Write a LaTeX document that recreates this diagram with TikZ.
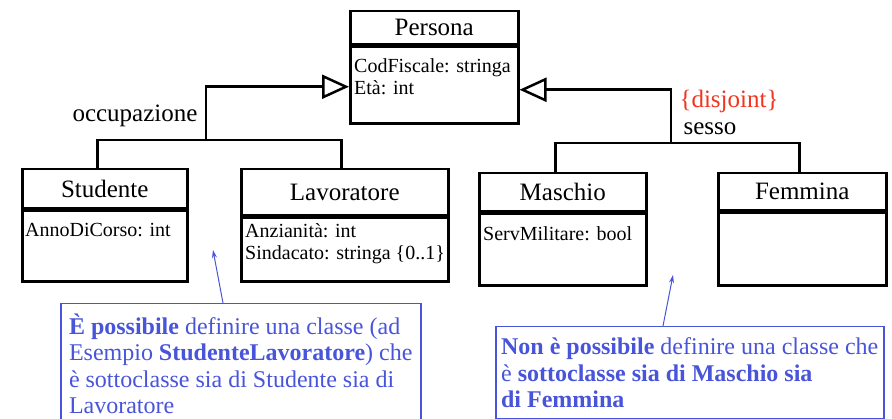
\documentclass[tikz,border=0pt]{standalone}
\usepackage{fontspec}
\setmainfont{Liberation Serif}
\usepackage{tikz}
\usetikzlibrary{arrows.meta,positioning}

\definecolor{noteblue}{RGB}{72,84,218}
\definecolor{disjred}{RGB}{240,52,30}

\begin{document}
\begin{tikzpicture}[
    x=1pt, y=-1pt,
    cname/.style={rectangle, draw, line width=2.5pt, inner sep=0pt, anchor=north west,
        font=\fontsize{25}{28}\selectfont},
    cbody/.style={rectangle, draw, line width=2.5pt, inner sep=0pt},
    attr/.style={anchor=north west, inner sep=0pt, align=left,
        font=\fontsize{20}{22}\selectfont},
    gen/.style={line width=2.5pt},
    super/.style={-{Triangle[open, length=27pt, width=24pt]}, line width=2.5pt},
    lbl/.style={anchor=base, inner sep=0pt, font=\fontsize{25}{28}\selectfont},
    note/.style={rectangle, draw=noteblue, line width=1.5pt, text=noteblue, align=left,
        anchor=north west, inner sep=0pt, font=\fontsize{24}{26.5}\selectfont},
    pointer/.style={draw=noteblue, line width=1pt, -{Stealth[length=8pt, width=5pt]}}
]
\useasboundingbox (0,0) rectangle (892,419);

% classes
\node[cname, minimum width=168pt, minimum height=33pt] (persona) at (349,10) {Persona};
\node[cbody, minimum width=168pt, minimum height=77pt, below=0pt of persona] (personaB) {};
\node[attr] (personaA) at ([shift={(5pt,-13pt)}]personaB.north west) {CodFiscale: stringa\\Età: int};

\node[cname, minimum width=165pt, minimum height=39pt] (studente) at (21,168) {Studente};
\node[cbody, minimum width=165pt, minimum height=71pt, below=0pt of studente] (studenteB) {};
\node[attr] (studenteA) at ([shift={(4pt,-14pt)}]studenteB.north west) {AnnoDiCorso: int};

\node[cname, minimum width=207pt, minimum height=46pt] (lavoratore) at (240,168) {Lavoratore};
\node[cbody, minimum width=207pt, minimum height=64pt, below=0pt of lavoratore] (lavoratoreB) {};
\node[attr] (lavoratoreA) at ([shift={(5pt,-7pt)}]lavoratoreB.north west) {Anzianità: int\\Sindacato: stringa \{0..1\}};

\node[cname, minimum width=167pt, minimum height=38pt] (maschio) at (478,172) {Maschio};
\node[cbody, minimum width=167pt, minimum height=72pt, below=0pt of maschio] (maschioB) {};
\node[attr] (maschioA) at ([shift={(5pt,-14pt)}]maschioB.north west) {ServMilitare: bool};

\node[cname, minimum width=168pt, minimum height=37pt] (femmina) at (717,172) {Femmina};
\node[cbody, minimum width=168pt, minimum height=73pt, below=0pt of femmina] (femminaB) {};

% generalizations
\coordinate (occJ) at (206,140);
\coordinate (sexJ) at (671,143);
\draw[gen] ([xshift=-7.5pt]studente.north) |- (occJ) -| ([xshift=-3.5pt]lavoratore.north);
\draw[super] (occJ) |- ([yshift=-1.5pt]personaB.west);
\draw[gen] ([xshift=-7.5pt]maschio.north) |- (sexJ) -| ([xshift=-3pt]femmina.north);
\draw[super] (sexJ) |- ([yshift=-4.5pt]personaB.east);

\node[lbl] (occLbl) at (135,122) {occupazione};
\node[lbl, text=disjred] (disjLbl) at (729,108) {\{disjoint\}};
\node[lbl] (sessoLbl) at (710,135) {sesso};

% notes
\node[note, minimum width=360pt, minimum height=120pt] (noteL) at (60,303)
    {\textbf{È possibile} definire una classe (ad\\
     Esempio \textbf{StudenteLavoratore}) che\\
     è sottoclasse sia di Studente sia di\\
     Lavoratore};
\node[note, minimum width=388pt, minimum height=92pt] (noteR) at (495,326)
    {\textbf{Non è possibile} definire una classe che\\
     è \textbf{sottoclasse sia di Maschio sia}\\
     \textbf{di Femmina}};
\coordinate (tipL) at (213,250);
\coordinate (tipR) at (673,275);
\draw[pointer] ([xshift=163pt]noteL.north west) -- (tipL);
\draw[pointer] ([xshift=168pt]noteR.north west) -- (tipR);
\end{tikzpicture}
\end{document}
